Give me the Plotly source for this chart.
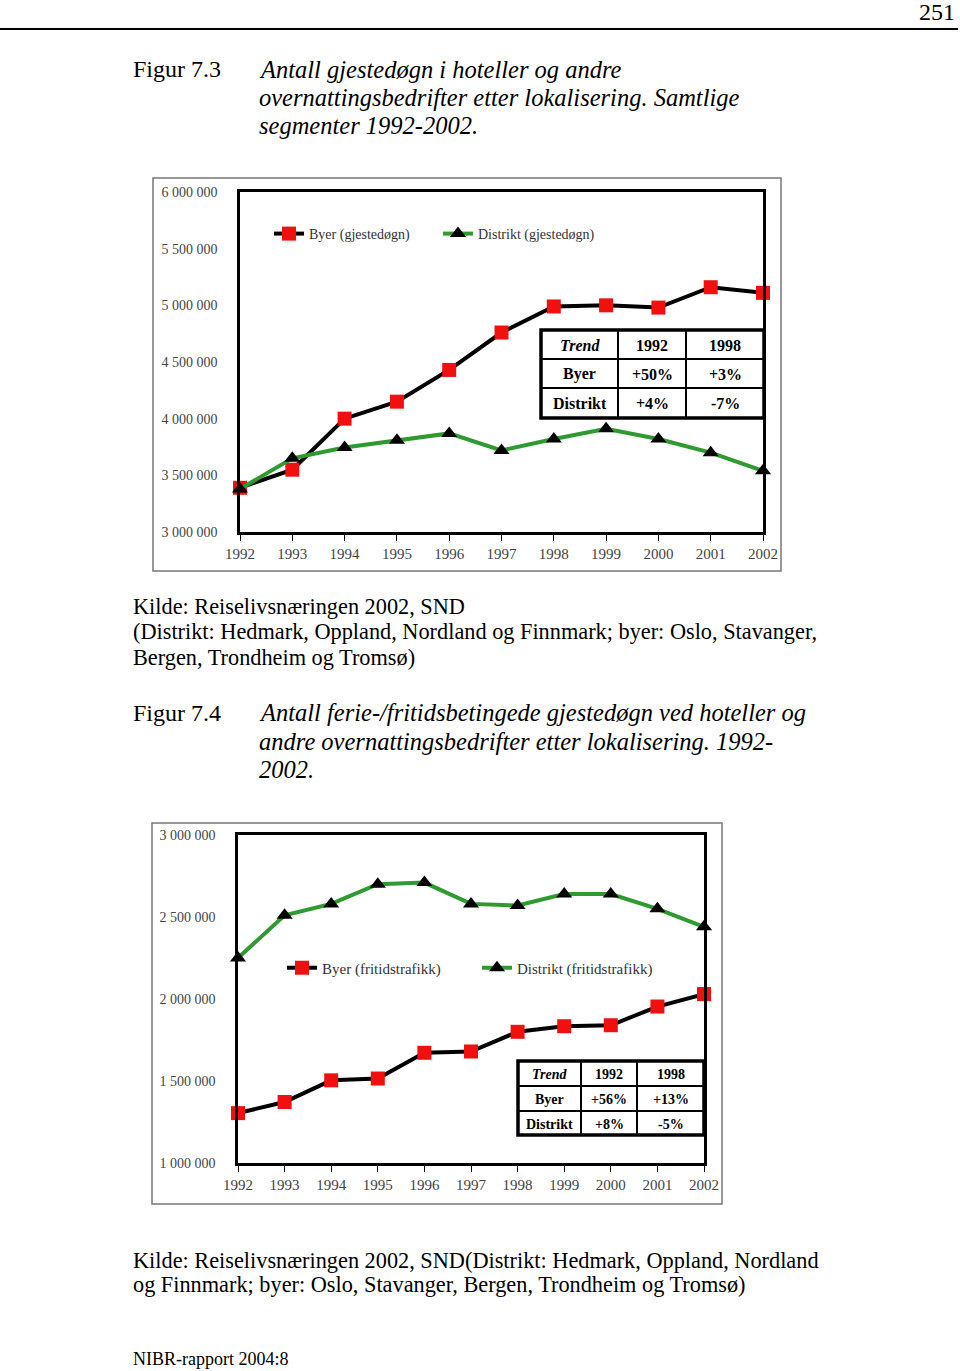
import plotly.graph_objects as go

W, H = 960, 1371

# Data
years = [1992, 1993, 1994, 1995, 1996, 1997, 1998, 1999, 2000, 2001, 2002]

byer_total = [3390000, 3550000, 4000000, 4150000, 4430000, 4760000,
              4990000, 5000000, 4980000, 5160000, 5110000]
distrikt_total = [3380000, 3650000, 3745000, 3810000, 3870000, 3720000,
                  3820000, 3910000, 3820000, 3700000, 3540000]

byer_fritid = [1304000, 1372000, 1504000, 1515000, 1672000, 1680000,
               1800000, 1834000, 1840000, 1954000, 2030000]
distrikt_fritid = [2250000, 2510000, 2580000, 2700000, 2710000, 2580000,
                   2570000, 2640000, 2640000, 2550000, 2440000]

trend_header = ["Trend", "1992", "1998"]
trend_rows = ["Byer", "Distrikt"]
trend_total = [["+50%", "+4%"], ["+3%", "-7%"]]
trend_fritid = [["+56%", "+8%"], ["+13%", "-5%"]]

caption_73 = ["Antall gjestedøgn i hoteller og andre",
              "overnattingsbedrifter etter lokalisering. Samtlige",
              "segmenter 1992-2002."]
kilde_73 = ["Kilde: Reiselivsnæringen 2002, SND",
            "(Distrikt: Hedmark, Oppland, Nordland og Finnmark; byer: Oslo, Stavanger,",
            "Bergen, Trondheim og Tromsø)"]
caption_74 = ["Antall ferie-/fritidsbetingede gjestedøgn ved hoteller og",
              "andre overnattingsbedrifter etter lokalisering. 1992-",
              "2002."]
kilde_74 = ["Kilde: Reiselivsnæringen 2002, SND(Distrikt: Hedmark, Oppland, Nordland",
            "og Finnmark; byer: Oslo, Stavanger, Bergen, Trondheim og Tromsø)"]

SERIF = "Liberation Serif"
RED = "#f01010"
GREEN = "#2f9a2f"


def px(x):
    return x / W


def py(y):
    return 1 - y / H


fig = go.Figure()

# Figure 7.3 lines
fig.add_trace(go.Scatter(
    x=years, y=byer_total, name="Byer (gjestedøgn)", mode="lines+markers",
    line=dict(color="black", width=4),
    marker=dict(symbol="square", size=14, color=RED),
    cliponaxis=False, xaxis="x", yaxis="y", legend="legend"))
fig.add_trace(go.Scatter(
    x=years, y=distrikt_total, name="Distrikt (gjestedøgn)", mode="lines+markers",
    line=dict(color=GREEN, width=4),
    marker=dict(symbol="triangle-up", size=14, color="black"),
    cliponaxis=False, xaxis="x", yaxis="y", legend="legend2"))

# Figure 7.4 lines
fig.add_trace(go.Scatter(
    x=years, y=byer_fritid, name="Byer (fritidstrafikk)", mode="lines+markers",
    line=dict(color="black", width=4),
    marker=dict(symbol="square", size=14, color=RED),
    cliponaxis=False, xaxis="x2", yaxis="y2", legend="legend3"))
fig.add_trace(go.Scatter(
    x=years, y=distrikt_fritid, name="Distrikt (fritidstrafikk)", mode="lines+markers",
    line=dict(color=GREEN, width=4),
    marker=dict(symbol="triangle-up", size=14, color="black"),
    cliponaxis=False, xaxis="x2", yaxis="y2", legend="legend4"))

axis_font = dict(family=SERIF, size=14, color="#444")
xcommon = dict(range=[1992, 2002], tickvals=years, showgrid=False, zeroline=False,
               showline=True, linecolor="black", linewidth=2.5, mirror=True,
               ticks="outside", ticklen=6, tickcolor="black",
               tickfont=dict(family=SERIF, size=15, color="#444"), automargin=False)
ycommon = dict(showgrid=False, zeroline=False, showline=True, linecolor="black",
               linewidth=2.5, mirror=True, ticks="", tickformat=",d",
               ticklabelstandoff=17, tickfont=axis_font, automargin=False)


def leg(x, y, size):
    return dict(orientation="h", x=px(x), y=py(y), xanchor="left", yanchor="middle",
                bgcolor="rgba(0,0,0,0)", font=dict(family=SERIF, size=size, color="#333"),
                itemwidth=30)


fig.update_layout(
    width=W, height=H, margin=dict(l=0, r=0, t=0, b=0, autoexpand=False),
    paper_bgcolor="white", plot_bgcolor="white", separators=", ",
    xaxis=dict(domain=[px(240), px(763)], anchor="y", **xcommon),
    yaxis=dict(domain=[py(532), py(192)], anchor="x", range=[3000000, 6000000],
               tickvals=[3000000, 3500000, 4000000, 4500000, 5000000, 5500000, 6000000], **ycommon),
    xaxis2=dict(domain=[px(238), px(704)], anchor="y2", **xcommon),
    yaxis2=dict(domain=[py(1163), py(835)], anchor="x2", range=[1000000, 3000000],
                tickvals=[1000000, 1500000, 2000000, 2500000, 3000000], **ycommon),
    legend=leg(269, 234, 14),
    legend2=leg(438, 234, 14),
    legend3=leg(282, 968, 15),
    legend4=leg(477, 968, 15),
    showlegend=True,
)

shapes = [
    dict(type="line", xref="paper", yref="paper", x0=0, x1=px(958), y0=py(29), y1=py(29),
         line=dict(color="black", width=2)),
    dict(type="rect", xref="paper", yref="paper", x0=px(153), x1=px(781), y0=py(571), y1=py(178),
         line=dict(color="#777", width=1.5), layer="below"),
    dict(type="rect", xref="paper", yref="paper", x0=px(152), x1=px(722), y0=py(1204), y1=py(823),
         line=dict(color="#777", width=1.5), layer="below"),
]

annotations = []


def text(x, y, s, size, anchor="left", color="black"):
    annotations.append(dict(x=px(x), y=py(y), xref="paper", yref="paper", text=s,
                            showarrow=False, xanchor=anchor, yanchor="middle",
                            font=dict(family=SERIF, size=size, color=color)))


def trend_table(vals, xs, ys, fsize):
    # white background, grid lines, thick outer frame
    shapes.append(dict(type="rect", xref="paper", yref="paper", x0=px(xs[0]), x1=px(xs[-1]),
                       y0=py(ys[-1]), y1=py(ys[0]), fillcolor="white",
                       line=dict(color="black", width=3.5)))
    for xv in xs[1:-1]:
        shapes.append(dict(type="line", xref="paper", yref="paper", x0=px(xv), x1=px(xv),
                           y0=py(ys[-1]), y1=py(ys[0]), line=dict(color="black", width=2)))
    for yv in ys[1:-1]:
        shapes.append(dict(type="line", xref="paper", yref="paper", x0=px(xs[0]), x1=px(xs[-1]),
                           y0=py(yv), y1=py(yv), line=dict(color="black", width=2)))
    rows = [["<i>" + trend_header[0] + "</i>"] + trend_header[1:]]
    for i, r in enumerate(trend_rows):
        rows.append([r, vals[0][i], vals[1][i]])
    for ri, row in enumerate(rows):
        for ci, s in enumerate(row):
            text((xs[ci] + xs[ci + 1]) / 2, (ys[ri] + ys[ri + 1]) / 2 + 1, "<b>" + s + "</b>",
                 fsize, "center")


trend_table(trend_total, [541, 618, 686, 764], [330, 359, 388, 418], 16)
trend_table(trend_fritid, [518, 581, 637, 704], [1061, 1086, 1111, 1135], 14)

text(957, 12, "251", 24, "right")
text(131, 69, "Figur 7.3", 24)
for i, line in enumerate(caption_73):
    text(257, 69 + i * 28.5, "<i>" + line + "</i>", 24.5)
for i, line in enumerate(kilde_73):
    text(131, 606 + i * 25.5, line, 22.3)
text(131, 713, "Figur 7.4", 24)
for i, line in enumerate(caption_74):
    text(257, 713 + i * 28, "<i>" + line + "</i>", 24.5)
for i, line in enumerate(kilde_74):
    text(131, 1260 + i * 24.5, line, 22.3)
text(131, 1359, "NIBR-rapport 2004:8", 18)

fig.update_layout(shapes=shapes, annotations=annotations)

fig.write_html("out.html", config={"displayModeBar": False}, post_script=(
    "document.body.style.margin='0';"
    "document.body.style.overflow='hidden';"
    "document.documentElement.style.overflow='hidden';"))
